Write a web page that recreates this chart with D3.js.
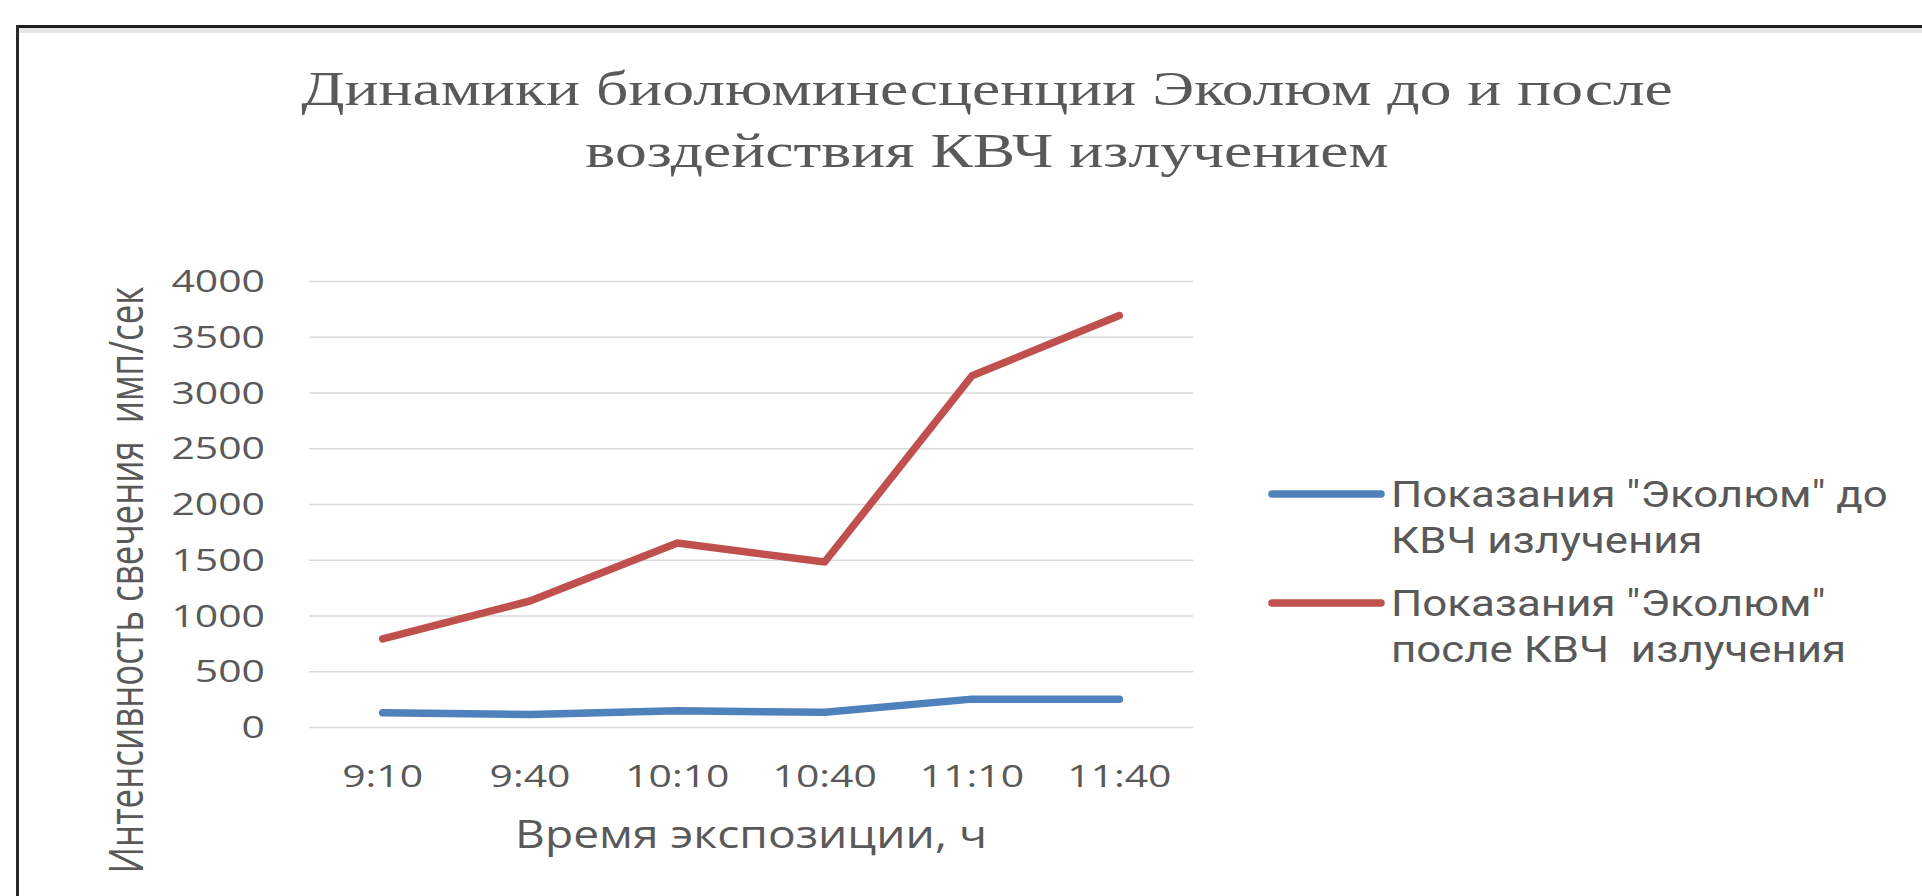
<!DOCTYPE html>
<html>
<head>
<meta charset="utf-8">
<script src="https://cdn.jsdelivr.net/npm/d3@7"></script>
<style>
  html, body { margin: 0; padding: 0; background: #ffffff; }
  svg { display: block; }
  text { white-space: pre; }
</style>
</head>
<body>
<svg id="chart" width="1922" height="896"></svg>
<script>
// ---- data ----
const categories = ["9:10", "9:40", "10:10", "10:40", "11:10", "11:40"];
const seriesBefore = [128, 112, 145, 132, 250, 250];
const seriesAfter = [790, 1130, 1650, 1480, 3150, 3690];
const yTicks = [0, 500, 1000, 1500, 2000, 2500, 3000, 3500, 4000];
const seriesNames = [
  ["Показания \"Эколюм\" до", "КВЧ излучения"],
  ["Показания \"Эколюм\"", "после КВЧ  излучения"]
];
const titleLines = ["Динамики биолюминесценции Эколюм до и после", "воздействия КВЧ излучением"];
const xTitle = "Время экспозиции, ч";
const yTitle = "Интенсивность свечения  имп/сек";

// ---- layout ----
const svg = d3.select("#chart");
const L = 309, R = 1193, T = 281, B = 727;
const textColor = "#595959";
const sansFont = "'Open Sans', sans-serif";
const legendFont = "Roboto, 'Open Sans', sans-serif";
const serifFont = "'Liberation Serif', 'Times New Roman', serif";
const colors = ["#4F81BD", "#C0504D"];

// frame of the screenshot
svg.append("rect").attr("x", 16).attr("y", 28).attr("width", 1906).attr("height", 5).attr("fill", "#e6e6e6");
svg.append("rect").attr("x", 16).attr("y", 25).attr("width", 1906).attr("height", 3).attr("fill", "#1c1c1c");
svg.append("rect").attr("x", 16).attr("y", 25).attr("width", 3).attr("height", 871).attr("fill", "#2a2a2a");

// helper: place text at (x,y) and stretch it
function placeText(g, str, x, y, opts) {
  const t = g.append("text")
    .text(str)
    .attr("font-family", opts.font || sansFont)
    .attr("font-size", opts.size)
    .attr("fill", opts.fill || textColor)
    .attr("text-anchor", opts.anchor || "start");
  let sx = opts.sx || 1;
  if (opts.width) sx = opts.width / t.node().getComputedTextLength();
  const sy = opts.sy || 1;
  t.attr("transform", `translate(${x},${y})${opts.rotate ? " rotate(" + opts.rotate + ")" : ""} scale(${sx},${sy})`);
  return sx;
}

// scales
const x = d3.scalePoint().domain(categories).range([L, R]).padding(0.5);
const y = d3.scaleLinear().domain([0, 4000]).range([B, T]);

// gridlines via axis
const yAxis = svg.append("g")
  .attr("transform", `translate(${L},0)`)
  .call(d3.axisLeft(y).tickValues(yTicks).tickSize(-(R - L)).tickFormat(""));
yAxis.select(".domain").remove();
yAxis.selectAll(".tick line").attr("stroke", "#d9d9d9").attr("stroke-width", 1.6);

// tick labels
const tickSx = 1.32;
const yl = svg.append("g");
yTicks.forEach(v => placeText(yl, String(v), 265, y(v) + 11, { size: 31, anchor: "end", sx: tickSx }));
const xl = svg.append("g");
categories.forEach(c => placeText(xl, c, x(c), 787, { size: 31, anchor: "middle", sx: tickSx }));

// title
const tg = svg.append("g");
const titleSx = placeText(tg, titleLines[0], 987, 105, { font: serifFont, size: 48, anchor: "middle", width: 1372 });
placeText(tg, titleLines[1], 987, 167, { font: serifFont, size: 48, anchor: "middle", sx: titleSx });

// axis titles
placeText(svg, xTitle, 751, 848, { size: 38, anchor: "middle", width: 472 });
placeText(svg, yTitle, 143, 580, { size: 36, anchor: "middle", rotate: -90, width: 587, sy: 1.3 });

// lines
const line = d3.line().x((d, i) => x(categories[i])).y(d => y(d));
[seriesBefore, seriesAfter].forEach((s, k) => {
  svg.append("path").datum(s)
    .attr("d", line)
    .attr("fill", "none")
    .attr("stroke", colors[k])
    .attr("stroke-width", 7.5)
    .attr("stroke-linejoin", "round")
    .attr("stroke-linecap", "round");
});

// legend (each entry one text with two lines)
const lg = svg.append("g");
const legendY = [494, 603];
const legendX = 1391;
let legSx = null;
seriesNames.forEach((lines, k) => {
  lg.append("line")
    .attr("x1", 1272).attr("x2", 1381)
    .attr("y1", legendY[k]).attr("y2", legendY[k])
    .attr("stroke", colors[k]).attr("stroke-width", 7.5).attr("stroke-linecap", "round");
  const t = lg.append("text")
    .attr("font-family", legendFont)
    .attr("font-size", 37)
    .attr("fill", textColor);
  lines.forEach((ln, j) => {
    t.append("tspan").attr("x", 0).attr("y", j * 46).text(ln);
  });
  if (legSx === null) legSx = 497 / t.select("tspan").node().getComputedTextLength();
  t.attr("transform", `translate(${legendX},${legendY[k] + 13}) scale(${legSx},1)`);
});
</script>
</body>
</html>
